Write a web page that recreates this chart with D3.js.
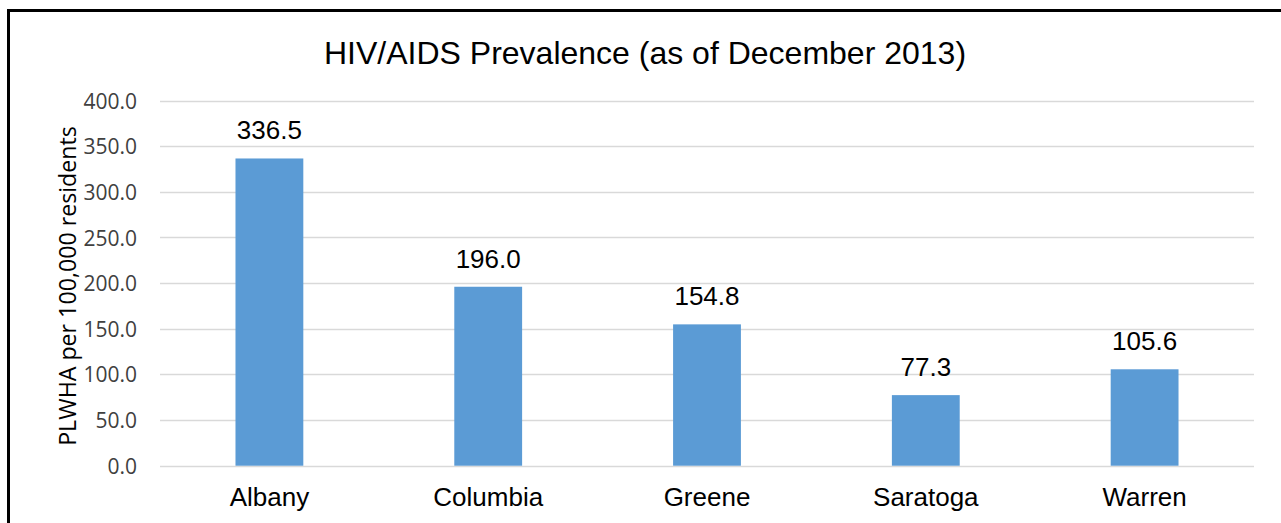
<!DOCTYPE html>
<html>
<head>
<meta charset="utf-8">
<script src="https://cdn.jsdelivr.net/npm/d3@7"></script>
<style>
  body { margin: 0; background: #fff; }
  svg { display: block; }
</style>
</head>
<body>
<script>
// chart data
const counties = ["Albany", "Columbia", "Greene", "Saratoga", "Warren"];
const prevalence = [336.5, 196.0, 154.8, 77.3, 105.6];
const yTicks = [0, 50, 100, 150, 200, 250, 300, 350, 400];

const titleText = "HIV/AIDS Prevalence (as of December 2013)";
const yLabel = "PLWHA per 100,000 residents";

const W = 1281, H = 523;

let svg = d3.select("body")
  .append("svg")
    .attr("width", W)
    .attr("height", H)
;

// frame (left + top only, the rest is cropped)
svg.append("rect")
  .attr("x", 7).attr("y", 9)
  .attr("width", 3).attr("height", H - 9)
  .attr("fill", "#000");
svg.append("rect")
  .attr("x", 7).attr("y", 9)
  .attr("width", W - 7).attr("height", 3)
  .attr("fill", "#000");

let x = d3.scaleBand()
  .domain(counties)
  .range([160, 1254])
  .paddingInner(0.69)
  .paddingOuter(0.345);

let y = d3.scaleLinear()
  .domain([0, 400])
  .range([465.7, 100.5]);

// gridlines
svg.append("g")
  .selectAll("line")
  .data(yTicks)
  .enter()
    .append("line")
    .attr("x1", 160)
    .attr("x2", 1254)
    .attr("y1", d => Math.round(y(d)) + 0.5)
    .attr("y2", d => Math.round(y(d)) + 0.5)
    .attr("stroke", "#d9d9d9")
    .attr("stroke-width", 1.5)
;

// y axis (labels only)
let yAxis = d3.axisLeft(y)
  .tickValues(yTicks)
  .tickFormat(d3.format(".1f"))
  .tickSize(0)
  .tickPadding(0);

let gy = svg.append("g")
  .attr("transform", "translate(137,0)")
  .call(yAxis);
gy.select(".domain").remove();
gy.selectAll("text")
  .attr("font-family", "'Open Sans', sans-serif")
  .attr("font-size", 21)
  .attr("fill", "#404040")
  .attr("dy", "0.36em");

// x axis (labels only)
let xAxis = d3.axisBottom(x).tickSize(0).tickPadding(0);
let gx = svg.append("g")
  .attr("transform", "translate(0,506)")
  .call(xAxis);
gx.select(".domain").remove();
gx.selectAll("text")
  .attr("font-family", "'Liberation Sans', Arial, sans-serif")
  .attr("font-size", 26)
  .attr("fill", "#000")
  .attr("dy", 0)
  .attr("y", 0);

// bars
svg.selectAll("rect.bar")
  .data(prevalence)
  .enter()
    .append("rect")
    .attr("class", "bar")
    .attr("x", (d, i) => x(counties[i]))
    .attr("width", x.bandwidth())
    .attr("y", d => y(d))
    .attr("height", d => y(0) - y(d))
    .attr("fill", "#5b9bd5")
;

// value labels
svg.selectAll("text.val")
  .data(prevalence)
  .enter()
    .append("text")
    .attr("class", "val")
    .attr("x", (d, i) => x(counties[i]) + x.bandwidth() / 2)
    .attr("y", d => y(d) - 19)
    .attr("text-anchor", "middle")
    .attr("font-family", "'Liberation Sans', Arial, sans-serif")
    .attr("font-size", 26)
    .attr("fill", "#000")
    .text(d => d.toFixed(1))
;

// title
svg.append("text")
  .attr("x", 645)
  .attr("y", 64)
  .attr("text-anchor", "middle")
  .attr("font-family", "'Liberation Sans', Arial, sans-serif")
  .attr("font-size", 32)
  .attr("fill", "#000")
  .text(titleText);

// y axis title
svg.append("text")
  .attr("transform", "translate(76,286) rotate(-90)")
  .attr("text-anchor", "middle")
  .attr("font-family", "'Open Sans', sans-serif")
  .attr("font-size", 23.2)
  .attr("fill", "#000")
  .text(yLabel);
</script>
</body>
</html>
